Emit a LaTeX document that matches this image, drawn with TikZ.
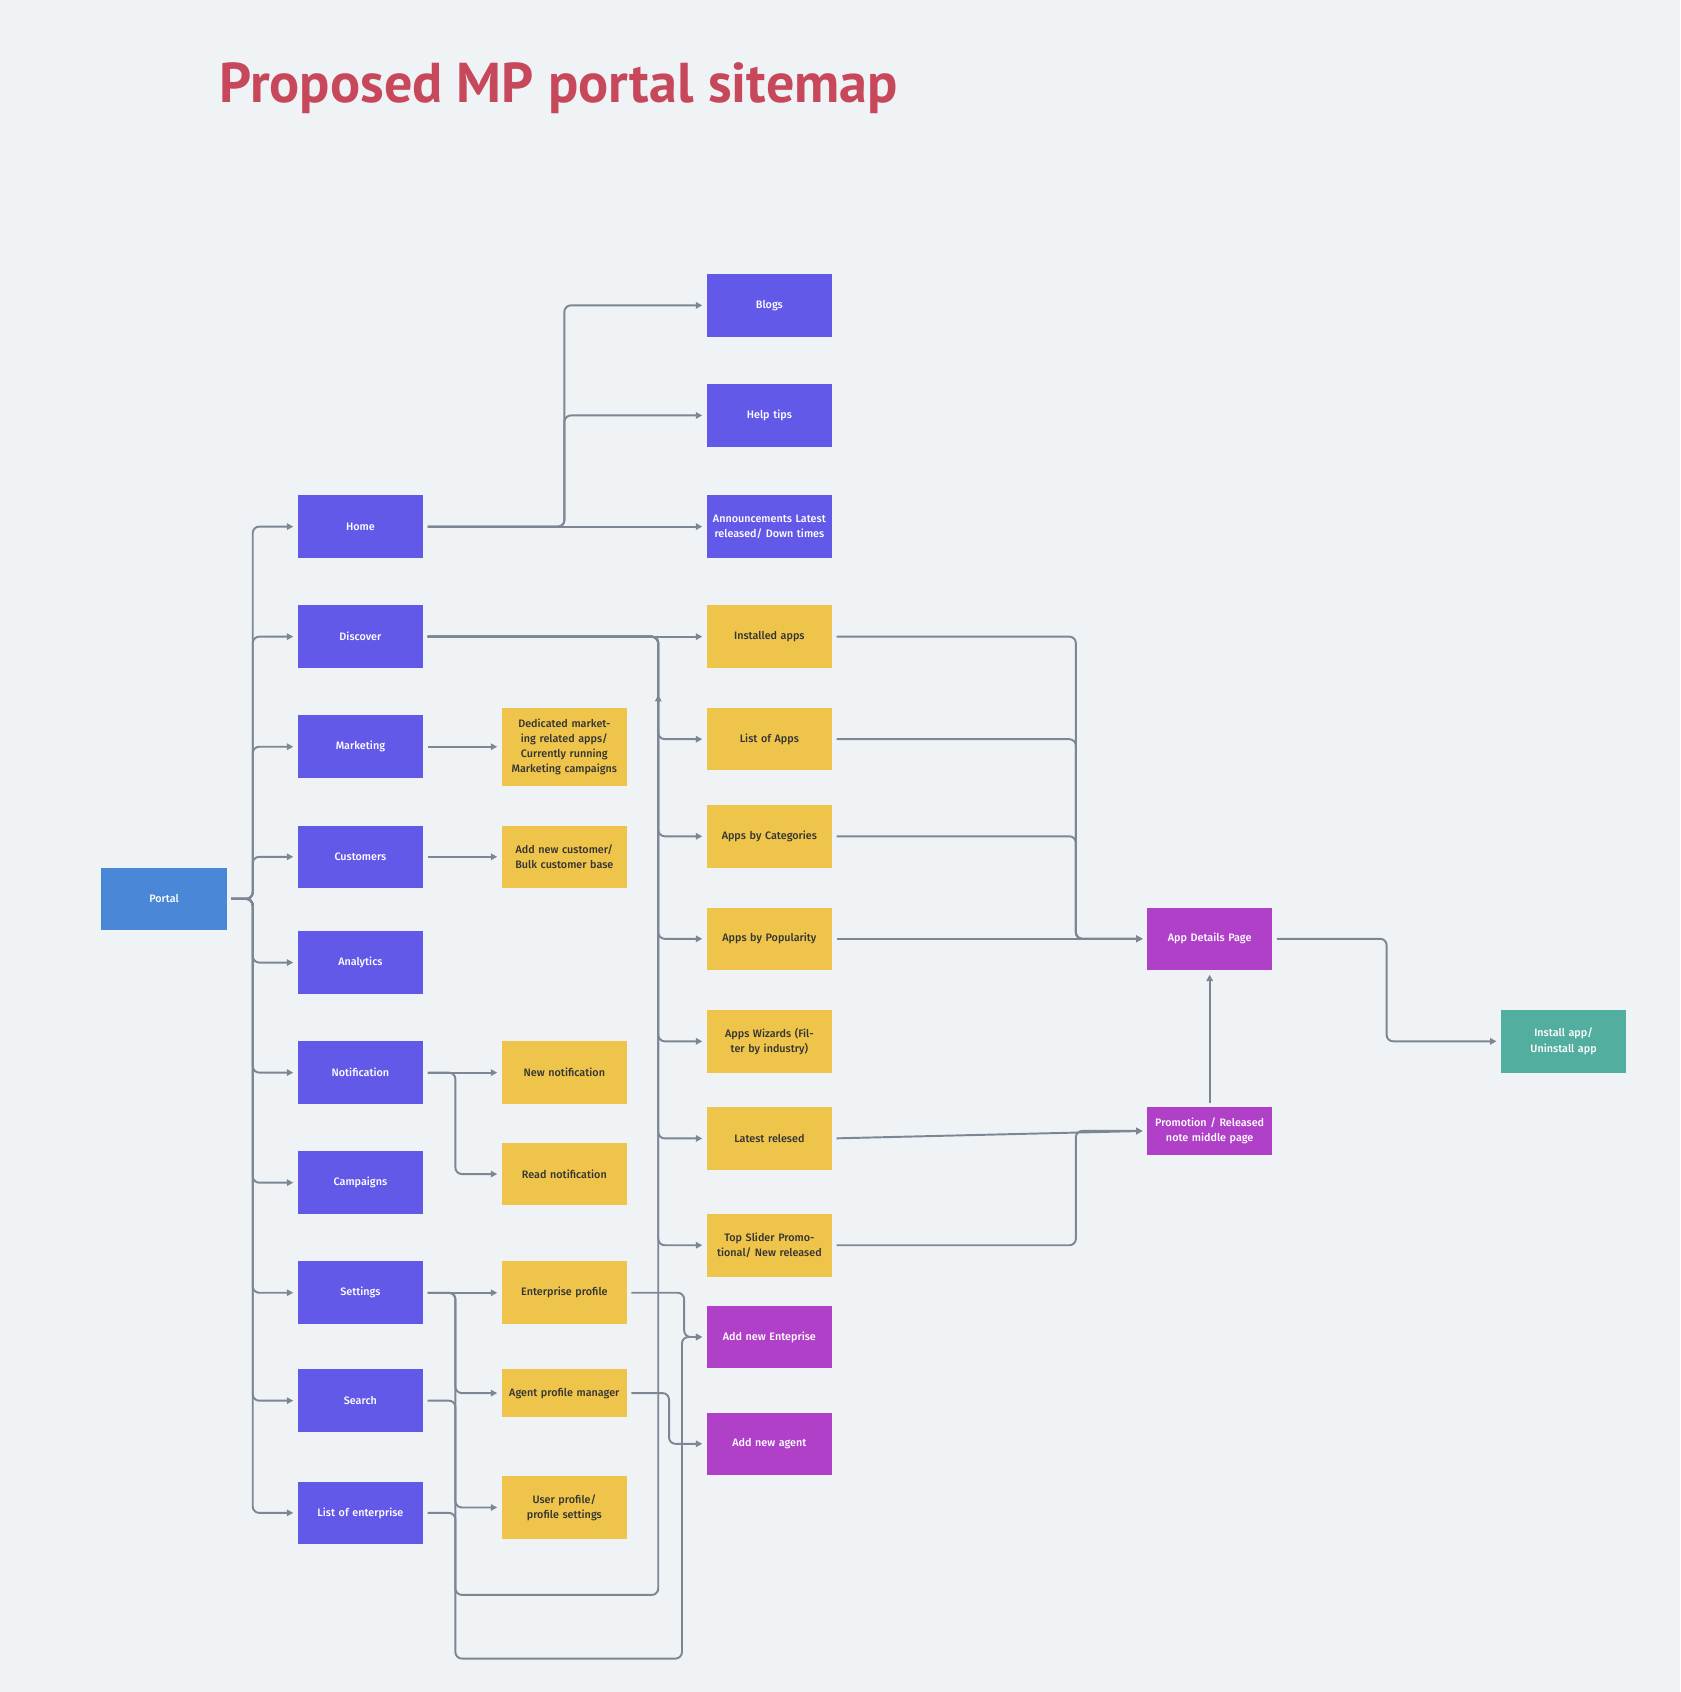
\documentclass[tikz,border=0pt]{standalone}
\usepackage{fontspec}
\setmainfont{PT Sans}
\newfontfamily\boxfont{Fira Sans Medium}
\usetikzlibrary{arrows.meta}
\definecolor{bg}{HTML}{EFF3F6}
\definecolor{cblue}{HTML}{6359E9}
\definecolor{cportal}{HTML}{4A87D6}
\definecolor{cyel}{HTML}{EEC44B}
\definecolor{cmag}{HTML}{B040C8}
\definecolor{cteal}{HTML}{52AE9E}
\definecolor{cline}{HTML}{7D8794}
\definecolor{ctitle}{HTML}{C7485A}
\tikzset{
 bx/.style={minimum width=116pt,minimum height=58pt,inner sep=2pt,align=center,font=\boxfont\fontsize{10}{14}\selectfont,text width=110pt},
 pb/.style={bx,fill=cblue,text=white},
 yb/.style={bx,fill=cyel,text=black!80},
 mb/.style={bx,fill=cmag,text=white},
 edge/.style={draw=cline,line width=1.8pt,rounded corners=6pt,-{Triangle[length=6pt,width=6pt]},shorten >=4pt,shorten <=4pt},
}
\begin{document}
\begin{tikzpicture}[x=1pt,y=-1pt]
\fill[bg] (0,0) rectangle (1557,1568);
\useasboundingbox (0,0) rectangle (1557,1568);
\node[anchor=base west,text=ctitle,font=\bfseries\fontsize{52}{60}\selectfont] (title) at (200,95) {Proposed MP portal sitemap};
\node[bx,fill=cportal,text=white] (portal) at (152,833) {Portal};
\node[pb] (home) at (334,488) {Home};
\node[pb] (disc) at (334,590) {Discover};
\node[pb] (mkt) at (334,692) {Marketing};
\node[pb] (cust) at (334,794) {Customers};
\node[pb] (anal) at (334,892) {Analytics};
\node[pb] (notif) at (334,994) {Notification};
\node[pb] (camp) at (334,1096) {Campaigns};
\node[pb] (sett) at (334,1198) {Settings};
\node[pb] (search) at (334,1298) {Search};
\node[pb] (lent) at (334,1402) {List of enterprise};
\node[yb,minimum height=72pt] (ded) at (523,692) {Dedicated marketing related apps/ Currently running Marketing campaigns};
\node[yb] (addc) at (523,794) {Add new customer/ Bulk customer base};
\node[yb] (newn) at (523,994) {New notification};
\node[yb] (readn) at (523,1088) {Read notification};
\node[yb] (entp) at (523,1198) {Enterprise profile};
\node[yb,minimum height=44pt] (agent) at (523,1291) {Agent profile manager};
\node[yb] (user) at (523,1397) {User profile/ profile settings};
\node[pb] (blogs) at (713,283) {Blogs};
\node[pb] (help) at (713,385) {Help tips};
\node[pb] (ann) at (713,488) {Announcements Latest released/ Down times};
\node[yb] (inst) at (713,590) {Installed apps};
\node[yb] (list) at (713,685) {List of Apps};
\node[yb] (cat) at (713,775) {Apps by Categories};
\node[yb] (pop) at (713,870) {Apps by Popularity};
\node[yb] (wiz) at (713,965) {Apps Wizards (Filter by industry)};
\node[yb] (late) at (713,1055) {Latest relesed};
\node[yb] (top) at (713,1154) {Top Slider Promotional/ New released};
\node[mb] (adde) at (713,1239) {Add new Enteprise};
\node[mb] (adda) at (713,1338) {Add new agent};
\node[mb] (app) at (1121,870) {App Details Page};
\node[mb,minimum height=44pt] (promo) at (1121,1048) {Promotion / Released note middle page};
\node[bx,fill=cteal,text=white] (install) at (1449,965) {Install app/ Uninstall app};
% portal trunk
\foreach \t in {home,disc,mkt,cust,anal,notif,camp,sett,search,lent}
  \draw[edge] (portal.east) -- ++(24,0) |- (\t.west);
% home
\draw[edge] (home.east) -- (ann.west);
\draw[edge] (home.east) -| (523,420) |- (help.west);
\draw[edge] (home.east) -| (523,420) |- (blogs.west);
% discover
\draw[edge] (disc.east) -- (inst.west);
\foreach \t in {list,cat,pop,wiz,late,top}
  \draw[edge] (disc.east) -| (610,640) |- (\t.west);
\draw[edge] (search.east) -| (422,1478) -| (610,1400) -- (610,640);
% marketing, customers
\draw[edge] (mkt.east) -- (ded.west);
\draw[edge] (cust.east) -- (addc.west);
\draw[edge] (notif.east) -- (newn.west);
\draw[edge] (notif.east) -| (422,1040) |- (readn.west);
\draw[edge] (sett.east) -- (entp.west);
\draw[edge] (sett.east) -| (422,1250) |- (agent.west);
\draw[edge] (sett.east) -| (422,1250) |- (user.west);
\draw[edge] (lent.east) -| (422,1537) -| (632,1400) |- (adde.west);
\draw[edge] (entp.east) -| (634,1220) |- (adde.west);
\draw[edge] (agent.east) -| (620,1320) |- (adda.west);
% apps to details
\foreach \t in {inst,list,cat}
  \draw[edge] (\t.east) -| (997,800) |- (app.west);
\draw[edge] (pop.east) -- (app.west);
\draw[edge] (app.east) -| (1285,920) |- (install.west);
\draw[edge] (promo.north) -- (app.south);
\draw[edge] (late.east) -- (promo.west);
\draw[edge] (top.east) -| (997,1100) |- (promo.west);
\end{tikzpicture}
\end{document}
